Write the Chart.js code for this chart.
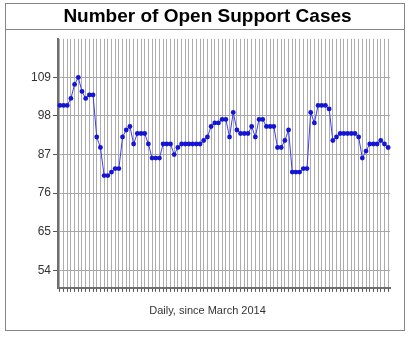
<!DOCTYPE html>
<html>
<head>
<meta charset="utf-8">
<script src="https://cdn.jsdelivr.net/npm/chart.js@4/dist/chart.umd.min.js"></script>
<style>
  body { margin: 0; background: #ffffff; }
  canvas { display: block; }
</style>
</head>
<body>
<canvas id="casesChart" width="410" height="337"></canvas>
<script>
// open cases, one per day
var openCases = [
    101, 101, 101, 103, 107, 109, 105, 103, 104, 104,
    92, 89, 81, 81, 82, 83, 83, 92, 94, 95,
    90, 93, 93, 93, 90, 86, 86, 86, 90, 90,
    90, 87, 89, 90, 90, 90, 90, 90, 90, 91,
    92, 95, 96, 96, 97, 97, 92, 99, 94, 93,
    93, 93, 95, 92, 97, 97, 95, 95, 95, 89,
    89, 91, 94, 82, 82, 82, 83, 83, 99, 96,
    101, 101, 101, 100, 91, 92, 93, 93, 93, 93,
    93, 92, 86, 88, 90, 90, 90, 91, 90, 89
];
var dayLabels = openCases.map(function (v, i) { return 'Day ' + (i + 1); });
var yTicks = [54, 65, 76, 87, 98, 109];

var titleText = 'Number of Open Support Cases';
var xAxisText = 'Daily, since March 2014';

// frame round the whole chart + line under the title
var framePlugin = {
    id: 'frame',
    beforeDraw: function (chart) {
        var ctx = chart.ctx;
        ctx.save();
        ctx.strokeStyle = '#858585';
        ctx.lineWidth = 1;
        ctx.strokeRect(5.5, 3.5, 399, 327);
        ctx.beginPath();
        ctx.moveTo(5, 29.5);
        ctx.lineTo(405, 29.5);
        ctx.stroke();
        ctx.restore();
    }
};

new Chart(document.getElementById('casesChart'), {
    type: 'line',
    data: {
        labels: dayLabels,
        datasets: [{
            label: 'Open cases',
            data: openCases,
            borderColor: '#3c3cf2',
            borderWidth: 1,
            pointBackgroundColor: '#1414d4',
            pointBorderColor: '#1414d4',
            pointRadius: 2.4,
            pointBorderWidth: 0,
            tension: 0
        }]
    },
    options: {
        responsive: false,
        animation: false,
        layout: {
            padding: { left: 25, right: 20, top: 0, bottom: 9 }
        },
        plugins: {
            legend: { display: false },
            tooltip: { enabled: false },
            title: {
                display: true,
                text: titleText,
                color: '#000000',
                font: { family: 'Liberation Sans, Arial, sans-serif', size: 19, weight: 'bold' },
                padding: { top: 5, bottom: 11 }
            },
            subtitle: {
                display: true,
                position: 'bottom',
                text: xAxisText,
                color: '#333333',
                font: { family: 'Liberation Sans, Arial, sans-serif', size: 11 },
                padding: { top: 13, bottom: 10 }
            }
        },
        scales: {
            x: {
                type: 'category',
                offset: true,
                grid: {
                    color: '#adadad',
                    lineWidth: 1,
                    drawTicks: true,
                    tickLength: 4,
                    tickColor: '#555555'
                },
                border: { color: '#6e6e6e', width: 2 },
                ticks: { display: false, autoSkip: false }
            },
            y: {
                min: 49,
                max: 120,
                afterBuildTicks: function (scale) {
                    scale.ticks = yTicks.map(function (v) { return { value: v }; });
                },
                afterFit: function (scale) {
                    scale.width = 33;
                },
                grid: {
                    color: '#a8a8a8',
                    lineWidth: 1,
                    tickLength: 5,
                    tickColor: '#555555'
                },
                border: { color: '#6e6e6e', width: 2 },
                ticks: {
                    color: '#333333',
                    padding: 2,
                    font: { family: 'Liberation Sans, Arial, sans-serif', size: 12 }
                }
            }
        }
    },
    plugins: [framePlugin]
});
</script>
</body>
</html>
